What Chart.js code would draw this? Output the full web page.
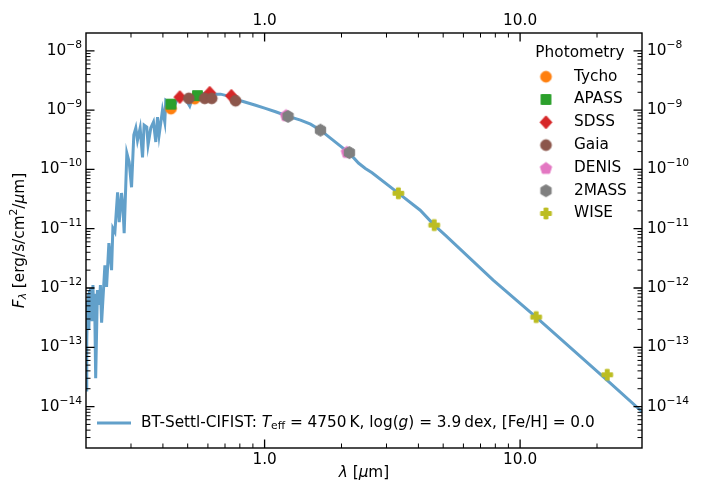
<!DOCTYPE html>
<html>
<head>
<meta charset="utf-8">
<script src="https://cdn.jsdelivr.net/npm/chart.js@4.4.0/dist/chart.umd.min.js"></script>
<style>
  body { margin: 0; background: #fff; }
  #wrap { width: 703px; height: 490px; }
</style>
</head>
<body>
<div id="wrap"><canvas id="sed"></canvas></div>
<script>
// model spectrum (wavelength in micron, flux in erg/s/cm2/micron)
const modelWave = [0.200, 0.2009, 0.2018, 0.2027, 0.2036, 0.2045, 0.2053, 0.2063, 0.2073, 0.2083,
  0.2092, 0.2101, 0.2111, 0.2120, 0.2129, 0.2140, 0.2160, 0.2182, 0.2217, 0.2257,
  0.2277, 0.2302, 0.2371, 0.2407, 0.2458, 0.2518, 0.2548, 0.2595, 0.2659, 0.2698,
  0.2755, 0.2788, 0.2821, 0.2890, 0.2951, 0.3015, 0.3077, 0.3133, 0.3181, 0.3258,
  0.3329, 0.3377, 0.3459, 0.3499, 0.3586, 0.3674, 0.3751, 0.3810, 0.3865, 0.3985,
  0.4068, 0.4105, 0.4217, 0.4372, 0.4532, 0.4697, 0.4912, 0.5094, 0.5235, 0.5524,
  0.5882, 0.6264, 0.673, 0.7233, 0.806, 0.922, 1.0, 1.104, 1.23, 1.382,
  1.513, 1.655, 1.81, 1.982, 2.148, 2.33, 2.48, 2.634, 3.338, 4.065,
  4.613, 5.094, 7.845, 11.55, 21.88, 30.0];
const modelFlux = [1.9e-14, 4.0e-13, 1.2e-13, 6.0e-13, 2.2e-13, 8.0e-13, 1.95e-13, 9.0e-13, 4.0e-13, 1.0e-12,
  3.5e-13, 2.9e-13, 9.0e-13, 4.0e-13, 1.12e-12, 5.0e-13, 8.0e-13, 3.0e-14, 9.2e-13, 5.2e-13,
  1.12e-12, 2.6e-13, 2.4e-12, 1.04e-12, 5.7e-12, 2.0e-12, 1.02e-11, 8.8e-12, 4.1e-11, 1.29e-11,
  4.0e-11, 2.5e-11, 8.4e-12, 1.88e-10, 1.33e-10, 5.0e-11, 3.8e-10, 5.0e-10, 3.1e-10, 5.0e-10,
  1.6e-10, 5.6e-10, 5.2e-10, 2.6e-10, 5.0e-10, 6.3e-10, 2.9e-10, 7.6e-10, 3.8e-10, 1.0e-9,
  6.3e-10, 1.47e-9, 1.36e-9, 1.0e-9, 1.47e-9, 1.66e-9, 1.53e-9, 1.17e-9, 1.66e-9, 1.79e-9,
  1.94e-9, 1.86e-9, 1.86e-9, 1.72e-9, 1.44e-9, 1.21e-9, 1.08e-9, 9.4e-10, 7.9e-10, 6.8e-10,
  5.8e-10, 4.6e-10, 3.37e-10, 2.47e-10, 1.88e-10, 1.28e-10, 1.04e-10, 8.8e-11, 3.98e-11, 2.05e-11,
  1.15e-11, 7.8e-12, 1.36e-12, 3.23e-13, 2.8e-14, 8.2e-15];

// photometry
const tychoWave = [0.430, 0.533];
const tychoFlux = [1.06e-9, 1.56e-9];
const apassWave = [0.430, 0.546];
const apassFlux = [1.26e-9, 1.76e-9];
const sdssWave = [0.466, 0.610, 0.741];
const sdssFlux = [1.66e-9, 1.96e-9, 1.74e-9];
const gaiaWave = [0.505, 0.583, 0.621, 0.770];
const gaiaFlux = [1.58e-9, 1.58e-9, 1.58e-9, 1.44e-9];
const denisWave = [1.213, 2.10];
const denisFlux = [8.24e-10, 1.98e-10];
const twomassWave = [1.235, 1.655, 2.148];
const twomassFlux = [7.83e-10, 4.60e-10, 1.92e-10];
const wiseWave = [3.338, 4.613, 11.56, 21.93];
const wiseFlux = [3.96e-11, 1.15e-11, 3.23e-13, 3.44e-14];

// axes
const xMin = 0.2, xMax = 30;
const yMin = 2e-15, yMax = 2e-8;
const xMajor = [1, 10];
const xMajorLabels = ['1.0', '10.0'];
const xMinor = [0.3, 0.4, 0.5, 0.6, 0.7, 0.8, 0.9, 2, 3, 4, 5, 6, 7, 8, 9, 20];
const yMajorExp = [-14, -13, -12, -11, -10, -9, -8];
const yMinorMant = [2, 3, 4, 5, 6, 7, 8, 9];

const FONT = '"DejaVu Sans", sans-serif';
const FS = 15.3;
const lineColor = '#62a0ca';

function pts(xs, ys) {
  return xs.map(function(x, i) { return {x: x, y: ys[i]}; });
}

let yMinor = [];
for (let e = -15; e <= -8; e++) {
  yMinorMant.forEach(function(m) {
    const v = m * Math.pow(10, e);
    if (v > yMin && v < yMax) yMinor.push(v);
  });
}

// marker images (matplotlib-like shapes)
function makeMarker(shape, color) {
  const s = 17, m = s / 2;
  const c = document.createElement('canvas');
  c.width = s; c.height = s;
  const g = c.getContext('2d');
  g.fillStyle = color;
  g.strokeStyle = color;
  g.lineWidth = 1;
  g.beginPath();
  if (shape === 'circle') {
    g.arc(m, m, 5.4, 0, 2 * Math.PI);
  } else if (shape === 'square') {
    g.rect(m - 4.9, m - 4.9, 9.8, 9.8);
  } else if (shape === 'diamond') {
    g.moveTo(m, m - 6.5); g.lineTo(m + 6, m); g.lineTo(m, m + 6.5); g.lineTo(m - 6, m);
    g.closePath();
  } else if (shape === 'pentagon' || shape === 'hexagon') {
    const n = shape === 'pentagon' ? 5 : 6;
    const r = 6;
    for (let i = 0; i < n; i++) {
      const a = -Math.PI / 2 + i * 2 * Math.PI / n;
      const px = m + r * Math.cos(a), py = m + r * Math.sin(a) + (n === 5 ? 0.6 : 0);
      if (i === 0) g.moveTo(px, py); else g.lineTo(px, py);
    }
    g.closePath();
  } else if (shape === 'plus') {
    const a = 5.4, b = 1.9;
    g.moveTo(m - b, m - a); g.lineTo(m + b, m - a); g.lineTo(m + b, m - b); g.lineTo(m + a, m - b);
    g.lineTo(m + a, m + b); g.lineTo(m + b, m + b); g.lineTo(m + b, m + a); g.lineTo(m - b, m + a);
    g.lineTo(m - b, m + b); g.lineTo(m - a, m + b); g.lineTo(m - a, m - b); g.lineTo(m - b, m - b);
    g.closePath();
  }
  g.fill();
  g.stroke();
  return c;
}

const surveys = [
  {name: 'Tycho', wave: tychoWave, flux: tychoFlux, color: '#ff7f0e', shape: 'circle'},
  {name: 'APASS', wave: apassWave, flux: apassFlux, color: '#2ca02c', shape: 'square'},
  {name: 'SDSS', wave: sdssWave, flux: sdssFlux, color: '#d62728', shape: 'diamond'},
  {name: 'Gaia', wave: gaiaWave, flux: gaiaFlux, color: '#8c564b', shape: 'circle'},
  {name: 'DENIS', wave: denisWave, flux: denisFlux, color: '#e377c2', shape: 'pentagon'},
  {name: '2MASS', wave: twomassWave, flux: twomassFlux, color: '#7f7f7f', shape: 'hexagon'},
  {name: 'WISE', wave: wiseWave, flux: wiseFlux, color: '#bcbd22', shape: 'plus'}
];
surveys.forEach(function(s) { s.img = makeMarker(s.shape, s.color); });

const datasets = [{
  label: 'model',
  data: pts(modelWave, modelFlux),
  showLine: true,
  borderColor: lineColor,
  borderWidth: 3,
  pointRadius: 0,
  tension: 0,
  order: 100
}];
surveys.forEach(function(s, i) {
  datasets.push({
    label: s.name,
    data: pts(s.wave, s.flux),
    pointStyle: s.img,
    pointRadius: 5,
    order: 50 - i
  });
});

// mixed-style text runs: [text, style], style may contain 'it', 'sub', 'sup'
function fontFor(style, size) {
  const small = style.indexOf('sub') >= 0 || style.indexOf('sup') >= 0;
  const it = style.indexOf('it') >= 0;
  return (it ? 'oblique ' : '') + (small ? size * 0.7 : size) + 'px ' + FONT;
}
function runsWidth(ctx, runs, size) {
  let w = 0;
  runs.forEach(function(r) {
    ctx.font = fontFor(r[1], size);
    w += ctx.measureText(r[0]).width;
  });
  return w;
}
function drawRuns(ctx, runs, x, y, size) {
  let cx = x;
  runs.forEach(function(r) {
    let dy = 0;
    if (r[1].indexOf('sub') >= 0) dy = size * 0.22;
    if (r[1].indexOf('sup') >= 0) dy = -size * 0.38;
    ctx.font = fontFor(r[1], size);
    ctx.fillText(r[0], cx, y + dy);
    cx += ctx.measureText(r[0]).width;
  });
}

const sedPlugin = {
  id: 'sedDecor',
  afterDatasetsDraw: function(chart) {
    const ctx = chart.ctx;
    const a = chart.chartArea;
    const sx = chart.scales.x, sy = chart.scales.y;
    ctx.save();
    ctx.strokeStyle = '#000';
    // inward ticks on all sides
    function xt(v, len, w) {
      const p = sx.getPixelForValue(v);
      ctx.lineWidth = w;
      ctx.beginPath();
      ctx.moveTo(p, a.bottom); ctx.lineTo(p, a.bottom - len);
      ctx.moveTo(p, a.top); ctx.lineTo(p, a.top + len);
      ctx.stroke();
    }
    function yt(v, len, w) {
      const p = sy.getPixelForValue(v);
      ctx.lineWidth = w;
      ctx.beginPath();
      ctx.moveTo(a.left, p); ctx.lineTo(a.left + len, p);
      ctx.moveTo(a.right, p); ctx.lineTo(a.right - len, p);
      ctx.stroke();
    }
    xMinor.forEach(function(v) { xt(v, 4.5, 1); });
    xMajor.forEach(function(v) { xt(v, 8.5, 1.3); });
    yMinor.forEach(function(v) { yt(v, 4.5, 1); });
    yMajorExp.forEach(function(e) { yt(Math.pow(10, e), 8.5, 1.3); });
    ctx.lineWidth = 1.4;
    ctx.strokeRect(a.left, a.top, a.right - a.left, a.bottom - a.top);

    ctx.fillStyle = '#000';
    ctx.textBaseline = 'middle';
    ctx.textAlign = 'left';
    // y tick labels, both sides
    yMajorExp.forEach(function(e) {
      const p = sy.getPixelForValue(Math.pow(10, e));
      const lab = [['10', ''], ['\u2212' + Math.abs(e), 'sup']];
      drawRuns(ctx, lab, a.left - 4 - runsWidth(ctx, lab, FS), p, FS);
      drawRuns(ctx, lab, a.right + 5, p, FS);
    });

    // photometry legend
    ctx.font = FS + 'px ' + FONT;
    ctx.textAlign = 'center';
    ctx.fillText('Photometry', 580, 53);
    ctx.textAlign = 'left';
    surveys.forEach(function(s, i) {
      const ry = 76.7 + i * 22.8;
      ctx.drawImage(s.img, 546 - s.img.width / 2, ry - s.img.height / 2);
      ctx.font = FS + 'px ' + FONT;
      ctx.fillText(s.name, 574, ry);
    });
    // model legend
    ctx.strokeStyle = lineColor;
    ctx.lineWidth = 3;
    ctx.beginPath();
    ctx.moveTo(97, 423); ctx.lineTo(131, 423);
    ctx.stroke();
    drawRuns(ctx, [['BT-Settl-CIFIST: ', ''], ['T', 'it'], ['eff', 'sub'], [' = 4750\u2009K, log(', ''],
      ['g', 'it'], [') = 3.9\u2009dex, [Fe/H] = 0.0', '']], 141, 423, FS);

    // axis titles
    const xr = [['\u03BB', 'it'], [' [', ''], ['\u03BC', 'it'], ['m]', '']];
    drawRuns(ctx, xr, (a.left + a.right) / 2 - runsWidth(ctx, xr, FS) / 2, 473, FS);
    const yr = [['F', 'it'], ['\u03BB', 'itsub'], [' [erg/s/cm', ''], ['2', 'sup'], ['/', ''], ['\u03BC', 'it'], ['m]', '']];
    ctx.translate(20, (a.top + a.bottom) / 2);
    ctx.rotate(-Math.PI / 2);
    drawRuns(ctx, yr, -runsWidth(ctx, yr, FS) / 2, 0, FS);
    ctx.restore();
  }
};

function xTicks(scale) {
  scale.ticks = xMinor.concat(xMajor).sort(function(p, q) { return p - q; })
    .map(function(v) { return {value: v}; });
}
function yTicks(scale) {
  scale.ticks = yMinor.concat(yMajorExp.map(function(e) { return Math.pow(10, e); }))
    .sort(function(p, q) { return p - q; })
    .map(function(v) { return {value: v}; });
}
function xLabel(v) {
  const i = xMajor.indexOf(v);
  return i >= 0 ? xMajorLabels[i] : '';
}

function axis(kind, pos, size, pad) {
  const isX = kind === 'x';
  return {
    type: 'logarithmic',
    position: pos,
    min: isX ? xMin : yMin,
    max: isX ? xMax : yMax,
    afterBuildTicks: isX ? xTicks : yTicks,
    afterFit: function(s) { if (isX) s.height = size; else s.width = size; },
    grid: {display: false, drawTicks: false},
    border: {display: false},
    ticks: {
      display: isX,
      callback: isX ? xLabel : function() { return ''; },
      autoSkip: false,
      maxRotation: 0,
      padding: pad,
      color: '#000',
      font: {family: FONT, size: FS}
    }
  };
}

new Chart(document.getElementById('sed'), {
  type: 'scatter',
  data: {datasets: datasets},
  options: {
    responsive: true,
    maintainAspectRatio: false,
    animation: false,
    layout: {padding: 0},
    plugins: {legend: {display: false}, tooltip: {enabled: false}},
    scales: {
      x: axis('x', 'bottom', 42, 3),
      x2: axis('x', 'top', 33, 3),
      y: axis('y', 'left', 86, 4),
      y2: axis('y', 'right', 61, 5)
    }
  },
  plugins: [sedPlugin]
});
</script>
</body>
</html>
